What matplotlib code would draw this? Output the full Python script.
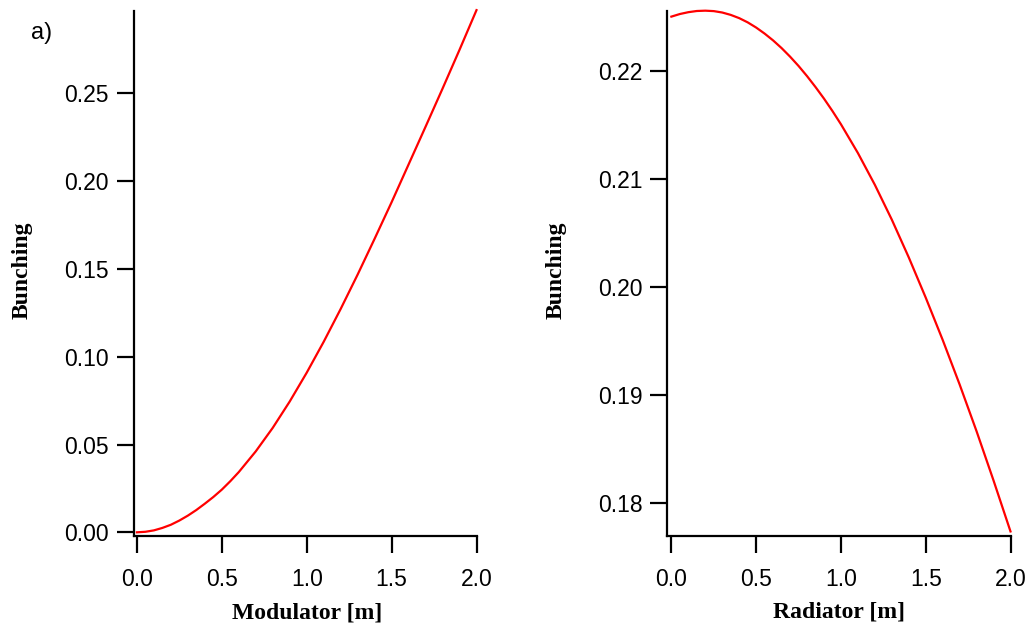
import matplotlib
matplotlib.use("Agg")
import matplotlib.pyplot as plt

# ---- data ----
modulator_x = [0.0, 0.05, 0.1, 0.15, 0.2, 0.25, 0.3, 0.35, 0.4, 0.45, 0.5,
               0.55, 0.6, 0.7, 0.8, 0.9, 1.0,
               1.1, 1.2, 1.3, 1.4, 1.5, 1.6, 1.7, 1.8, 1.9, 2.0]
modulator_bunching = [0.0, 0.0003, 0.0011, 0.0025, 0.0043, 0.0067, 0.0095,
                      0.0127, 0.0163, 0.0201, 0.0243, 0.0291, 0.0343,
                      0.0461, 0.0595, 0.0745, 0.0909, 0.1085, 0.1272, 0.1468,
                      0.1672, 0.1880, 0.2095, 0.2310, 0.2527, 0.2748, 0.2974]

radiator_x = [0.0, 0.05, 0.1, 0.15, 0.2, 0.25, 0.3, 0.35, 0.4, 0.45, 0.5,
              0.55, 0.6, 0.65, 0.7, 0.75, 0.8, 0.85, 0.9, 0.95, 1.0,
              1.1, 1.2, 1.3, 1.4, 1.5, 1.6, 1.7, 1.8, 1.9, 2.0]
radiator_bunching = [0.22500, 0.22524, 0.22541, 0.22552, 0.22555, 0.22551,
                     0.22538, 0.22516, 0.22486, 0.22447, 0.22399, 0.22343,
                     0.22280, 0.22209, 0.22130, 0.22044, 0.21950, 0.21849,
                     0.21742, 0.21627, 0.21505, 0.21239, 0.20945, 0.20623,
                     0.20274, 0.19902, 0.19511, 0.19099, 0.18666, 0.18211,
                     0.17740]

x_ticks = [0.0, 0.5, 1.0, 1.5, 2.0]
left_y_ticks = [0.00, 0.05, 0.10, 0.15, 0.20, 0.25]
right_y_ticks = [0.18, 0.19, 0.20, 0.21, 0.22]

W, H = 1029, 626
fig = plt.figure(figsize=(W / 100, H / 100), dpi=100)

tick_font = "Liberation Sans"
label_font = "Liberation Serif"
TS = 16.5
LS = 17


def style(ax, yticks, yfmt):
    for s in ("top", "right"):
        ax.spines[s].set_visible(False)
    for s in ("left", "bottom"):
        ax.spines[s].set_linewidth(1.6)
        ax.spines[s].set_color("black")
    ax.set_xticks(x_ticks)
    ax.set_xticklabels([f"{v:.1f}" for v in x_ticks])
    ax.set_yticks(yticks)
    ax.set_yticklabels([yfmt.format(v) for v in yticks])
    ax.tick_params(axis="both", direction="out", length=12, width=1.6,
                   colors="black", labelsize=TS)
    ax.tick_params(axis="x", pad=11)
    ax.tick_params(axis="y", pad=6)
    for lab in ax.get_xticklabels() + ax.get_yticklabels():
        lab.set_fontfamily(tick_font)


ax1 = fig.add_axes([133.5 / W, 1 - 536 / H, 343 / W, 525 / H])
ax1.plot(modulator_x, modulator_bunching, color="#ff0000", lw=1.6,
         clip_on=False, solid_joinstyle="round")
ax1.set_xlim(-0.02, 2.0)
ax1.set_ylim(-0.0021, 0.2969)
style(ax1, left_y_ticks, "{:.2f}")

ax2 = fig.add_axes([667.3 / W, 1 - 536 / H, 343.2 / W, 525 / H])
ax2.plot(radiator_x, radiator_bunching, color="#ff0000", lw=1.6,
         clip_on=False, solid_joinstyle="round")
ax2.set_xlim(-0.024, 2.0)
ax2.set_ylim(0.17698, 0.22552)
style(ax2, right_y_ticks, "{:.2f}")

# axis labels
fig.text(307 / W, 1 - 618 / H, "Modulator [m]", ha="center", va="baseline",
         fontsize=LS, fontweight="bold", fontfamily=label_font)
fig.text(839 / W, 1 - 617.5 / H, "Radiator [m]", ha="center", va="baseline",
         fontsize=LS, fontweight="bold", fontfamily=label_font)
fig.text(22 / W, 1 - 270 / H, "Bunching", ha="center", va="center",
         rotation=90, fontsize=LS, fontweight="bold", fontfamily=label_font)
fig.text(556 / W, 1 - 270 / H, "Bunching", ha="center", va="center",
         rotation=90, fontsize=LS, fontweight="bold", fontfamily=label_font)

fig.text(31.5 / W, 1 - 39.5 / H, "a)", ha="left", va="baseline",
         fontsize=17, fontfamily=tick_font)

fig.savefig("out.png", dpi=100)
